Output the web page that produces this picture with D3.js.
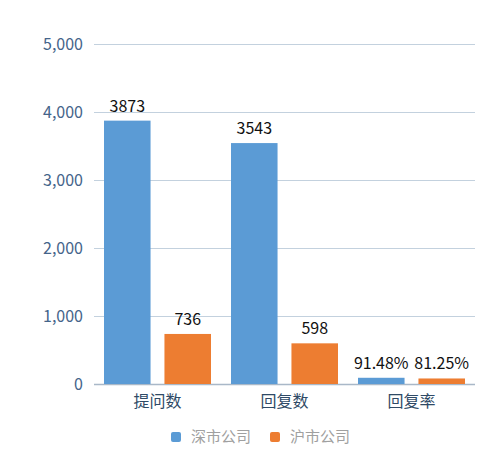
<!DOCTYPE html>
<html>
<head>
<meta charset="utf-8">
<script src="https://cdn.jsdelivr.net/npm/d3@7"></script>
<style>
  body { margin: 0; background: #fff; }
  text { font-family: "Noto Sans CJK SC", "Open Sans", sans-serif; }
</style>
</head>
<body>
<div class="svg-container"></div>
<script>
var categories = ["提问数", "回复数", "回复率"];
var seriesNames = ["深市公司", "沪市公司"];
var shenValues = [3873, 3543, 91.48];
var huValues = [736, 598, 81.25];
var shenLabels = ["3873", "3543", "91.48%"];
var huLabels = ["736", "598", "81.25%"];
var yTicks = [0, 1000, 2000, 3000, 4000, 5000];
var colors = ["#5b9bd5", "#ed7d31"];

var width = 483, height = 455;
var margin = {left: 94, right: 8, top: 44, bottom: 71};

var svg = d3.select('.svg-container').append('svg')
  .attr('width', width)
  .attr('height', height);

var x = d3.scaleBand()
  .domain(categories)
  .range([margin.left, width - margin.right])
  .paddingInner(0)
  .paddingOuter(0);

var x1 = d3.scaleBand()
  .domain(seriesNames)
  .range([10, x.bandwidth() - 10])
  .paddingInner(0.23);

var y = d3.scaleLinear()
  .domain([0, 5000])
  .range([height - margin.bottom, margin.top]);

// gridlines
svg.append('g')
  .selectAll('line')
  .data(yTicks)
  .enter().append('line')
  .attr('x1', margin.left)
  .attr('x2', width - margin.right)
  .attr('y1', function(d) { return Math.round(y(d)) + 0.5; })
  .attr('y2', function(d) { return Math.round(y(d)) + 0.5; })
  .attr('stroke', function(d) { return d === 0 ? '#a9b8c8' : '#c3d1de'; })
  .attr('stroke-width', function(d) { return d === 0 ? 1.5 : 1; });

// y labels
svg.append('g')
  .selectAll('text')
  .data(yTicks)
  .enter().append('text')
  .attr('x', 83)
  .attr('y', function(d) { return y(d); })
  .attr('dy', '0.35em')
  .attr('text-anchor', 'end')
  .attr('fill', '#44648a')
  .attr('font-size', 16)
  .text(function(d) { return d3.format(',')(d); });

var rows = categories.map(function(c, i) {
  return [
    {cat: c, s: seriesNames[0], v: shenValues[i], label: shenLabels[i], color: colors[0]},
    {cat: c, s: seriesNames[1], v: huValues[i], label: huLabels[i], color: colors[1]}
  ];
});
var flat = [].concat.apply([], rows);

svg.append('g')
  .selectAll('rect')
  .data(flat)
  .enter().append('rect')
  .attr('x', function(d) { return x(d.cat) + x1(d.s); })
  .attr('y', function(d) { return y(d.v); })
  .attr('width', x1.bandwidth())
  .attr('height', function(d) { return y(0) - y(d.v); })
  .attr('fill', function(d) { return d.color; });

svg.append('g')
  .selectAll('text')
  .data(flat)
  .enter().append('text')
  .attr('x', function(d) { return x(d.cat) + x1(d.s) + x1.bandwidth() / 2; })
  .attr('y', function(d) { return y(d.v) - 9; })
  .attr('text-anchor', 'middle')
  .attr('fill', '#111')
  .attr('font-size', 16)
  .text(function(d) { return d.label; });

// category labels
svg.append('g')
  .selectAll('text')
  .data(categories)
  .enter().append('text')
  .attr('x', function(d) { return x(d) + x.bandwidth() / 2; })
  .attr('y', 407)
  .attr('text-anchor', 'middle')
  .attr('fill', '#2f4a66')
  .attr('font-size', 16)
  .text(function(d) { return d; });

// legend
var legendX = [171, 270];
var legend = svg.append('g')
  .selectAll('g')
  .data(seriesNames)
  .enter().append('g')
  .attr('transform', function(d, i) { return 'translate(' + legendX[i] + ',437)'; });

legend.append('rect')
  .attr('x', 0)
  .attr('y', -5)
  .attr('width', 10)
  .attr('height', 10)
  .attr('rx', 2)
  .attr('fill', function(d, i) { return colors[i]; });

legend.append('text')
  .attr('x', 20)
  .attr('y', 0)
  .attr('dy', '0.35em')
  .attr('fill', '#a0a0a0')
  .attr('font-size', 15)
  .text(function(d) { return d; });
</script>
</body>
</html>
